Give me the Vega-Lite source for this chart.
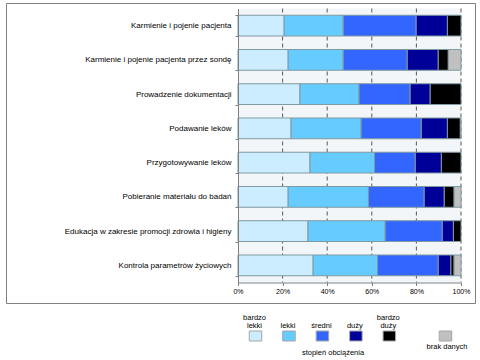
{
  "$schema": "https://vega.github.io/schema/vega-lite/v6.json",
  "background": "white",
  "padding": {"left": 5, "top": -2, "right": 0, "bottom": 0},
  "config": {"font": "Liberation Sans", "concat": {"spacing": 8}},
  "datasets": {
    "obciazenie": [
      {"czynnosc": "Karmienie i pojenie pacjenta", "stopien": "bardzo lekki", "procent": 20.7},
      {"czynnosc": "Karmienie i pojenie pacjenta", "stopien": "lekki", "procent": 26.5},
      {"czynnosc": "Karmienie i pojenie pacjenta", "stopien": "średni", "procent": 32.7},
      {"czynnosc": "Karmienie i pojenie pacjenta", "stopien": "duży", "procent": 14.0},
      {"czynnosc": "Karmienie i pojenie pacjenta", "stopien": "bardzo duży", "procent": 6.1},
      {"czynnosc": "Karmienie i pojenie pacjenta przez sondę", "stopien": "bardzo lekki", "procent": 22.5},
      {"czynnosc": "Karmienie i pojenie pacjenta przez sondę", "stopien": "lekki", "procent": 24.7},
      {"czynnosc": "Karmienie i pojenie pacjenta przez sondę", "stopien": "średni", "procent": 28.7},
      {"czynnosc": "Karmienie i pojenie pacjenta przez sondę", "stopien": "duży", "procent": 13.9},
      {"czynnosc": "Karmienie i pojenie pacjenta przez sondę", "stopien": "bardzo duży", "procent": 4.5},
      {"czynnosc": "Karmienie i pojenie pacjenta przez sondę", "stopien": "brak danych", "procent": 5.7},
      {"czynnosc": "Prowadzenie dokumentacji", "stopien": "bardzo lekki", "procent": 27.8},
      {"czynnosc": "Prowadzenie dokumentacji", "stopien": "lekki", "procent": 26.5},
      {"czynnosc": "Prowadzenie dokumentacji", "stopien": "średni", "procent": 22.9},
      {"czynnosc": "Prowadzenie dokumentacji", "stopien": "duży", "procent": 9.0},
      {"czynnosc": "Prowadzenie dokumentacji", "stopien": "bardzo duży", "procent": 13.8},
      {"czynnosc": "Podawanie leków", "stopien": "bardzo lekki", "procent": 23.8},
      {"czynnosc": "Podawanie leków", "stopien": "lekki", "procent": 31.4},
      {"czynnosc": "Podawanie leków", "stopien": "średni", "procent": 27.0},
      {"czynnosc": "Podawanie leków", "stopien": "duży", "procent": 11.7},
      {"czynnosc": "Podawanie leków", "stopien": "bardzo duży", "procent": 5.8},
      {"czynnosc": "Podawanie leków", "stopien": "brak danych", "procent": 0.3},
      {"czynnosc": "Przygotowywanie leków", "stopien": "bardzo lekki", "procent": 32.3},
      {"czynnosc": "Przygotowywanie leków", "stopien": "lekki", "procent": 28.9},
      {"czynnosc": "Przygotowywanie leków", "stopien": "średni", "procent": 18.3},
      {"czynnosc": "Przygotowywanie leków", "stopien": "duży", "procent": 11.7},
      {"czynnosc": "Przygotowywanie leków", "stopien": "bardzo duży", "procent": 8.8},
      {"czynnosc": "Pobieranie materiału do badań", "stopien": "bardzo lekki", "procent": 22.5},
      {"czynnosc": "Pobieranie materiału do badań", "stopien": "lekki", "procent": 36.0},
      {"czynnosc": "Pobieranie materiału do badań", "stopien": "średni", "procent": 25.0},
      {"czynnosc": "Pobieranie materiału do badań", "stopien": "duży", "procent": 9.0},
      {"czynnosc": "Pobieranie materiału do badań", "stopien": "bardzo duży", "procent": 4.4},
      {"czynnosc": "Pobieranie materiału do badań", "stopien": "brak danych", "procent": 3.1},
      {"czynnosc": "Edukacja w zakresie promocji zdrowia i higieny", "stopien": "bardzo lekki", "procent": 31.4},
      {"czynnosc": "Edukacja w zakresie promocji zdrowia i higieny", "stopien": "lekki", "procent": 34.6},
      {"czynnosc": "Edukacja w zakresie promocji zdrowia i higieny", "stopien": "średni", "procent": 25.6},
      {"czynnosc": "Edukacja w zakresie promocji zdrowia i higieny", "stopien": "duży", "procent": 5.0},
      {"czynnosc": "Edukacja w zakresie promocji zdrowia i higieny", "stopien": "bardzo duży", "procent": 3.4},
      {"czynnosc": "Kontrola parametrów życiowych", "stopien": "bardzo lekki", "procent": 33.7},
      {"czynnosc": "Kontrola parametrów życiowych", "stopien": "lekki", "procent": 28.9},
      {"czynnosc": "Kontrola parametrów życiowych", "stopien": "średni", "procent": 27.2},
      {"czynnosc": "Kontrola parametrów życiowych", "stopien": "duży", "procent": 5.7},
      {"czynnosc": "Kontrola parametrów życiowych", "stopien": "bardzo duży", "procent": 1.4},
      {"czynnosc": "Kontrola parametrów życiowych", "stopien": "brak danych", "procent": 3.1}
    ],
    "siatka": [{"g": 0.2}, {"g": 0.4}, {"g": 0.6}, {"g": 0.8}, {"g": 1}],
    "legenda": [
      {"stopien": "bardzo lekki"},
      {"stopien": "lekki"},
      {"stopien": "średni"},
      {"stopien": "duży"},
      {"stopien": "bardzo duży"},
      {"stopien": "brak danych"}
    ]
  },
  "vconcat": [
    {
      "width": 469,
      "height": 300,
      "view": {"stroke": "#808080", "strokeWidth": 1, "fill": "white"},
      "layer": [
        {
          "data": {"name": "siatka"},
          "transform": [{"filter": "datum.g == 1"}],
          "mark": {"type": "rect", "fill": "#F2F6F9"},
          "encoding": {
            "x": {"datum": 0, "type": "quantitative"},
            "x2": {"datum": 1},
            "y": {"datum": 0, "type": "quantitative", "scale": {"domain": [0, 1], "range": [5.5, 279.5], "nice": false, "zero": false}, "axis": null},
            "y2": {"datum": 1}
          }
        },
        {
          "data": {"name": "siatka"},
          "mark": {"type": "rule", "stroke": "#595959", "strokeDash": [4, 3], "strokeWidth": 1},
          "encoding": {
            "x": {"field": "g", "type": "quantitative"},
            "y": {"datum": 0, "type": "quantitative", "scale": {"domain": [0, 1], "range": [5.5, 279.5], "nice": false, "zero": false}, "axis": null},
            "y2": {"datum": 1}
          }
        },
        {
          "data": {"name": "obciazenie"},
          "transform": [{"calculate": "indexof(['bardzo lekki', 'lekki', 'średni', 'duży', 'bardzo duży', 'brak danych'], datum.stopien)", "as": "kolejnosc"}],
          "mark": {"type": "bar", "stroke": "#7F9AA0", "strokeWidth": 1},
          "encoding": {
            "x": {
              "field": "procent", "type": "quantitative", "stack": "normalize",
              "scale": {"domain": [0, 1], "range": [232, 455], "nice": false, "zero": false},
              "axis": {"values": [0, 0.2, 0.4, 0.6, 0.8, 1], "format": "%", "orient": "bottom", "offset": -20.5, "grid": false, "title": null, "tickSize": 3, "tickColor": "#808080", "domainColor": "#808080", "labelFontSize": 7, "labelColor": "#000000", "labelPadding": 2, "labelFlush": false, "zindex": 1}
            },
            "y": {
              "field": "czynnosc", "type": "nominal",
              "sort": ["Karmienie i pojenie pacjenta", "Karmienie i pojenie pacjenta przez sondę", "Prowadzenie dokumentacji", "Podawanie leków", "Przygotowywanie leków", "Pobieranie materiału do badań", "Edukacja w zakresie promocji zdrowia i higieny", "Kontrola parametrów życiowych"],
              "scale": {"range": [5.5, 279.5], "paddingInner": 0.394, "paddingOuter": 0.197},
              "axis": {"orient": "left", "offset": -232, "title": null, "tickBand": "extent", "tickSize": 3, "tickColor": "#808080", "domainColor": "#808080", "labelFontSize": 8, "labelColor": "#000000", "labelPadding": 4, "labelLimit": 0, "zindex": 1}
            },
            "order": {"field": "kolejnosc", "type": "quantitative", "sort": "ascending"},
            "color": {
              "field": "stopien", "type": "nominal",
              "scale": {"domain": ["bardzo lekki", "lekki", "średni", "duży", "bardzo duży", "brak danych"], "range": ["#CCECFF", "#66CCFF", "#3366FF", "#000099", "#000000", "#C0C0C0"]},
              "legend": null
            }
          }
        }
      ],
      "resolve": {"scale": {"y": "independent"}, "axis": {"y": "independent"}}
    },
    {
      "width": 469,
      "height": 48,
      "view": {"stroke": null},
      "title": {"text": "stopień obciążenia", "orient": "bottom", "anchor": "middle", "dx": 92.5, "offset": -5, "baseline": "alphabetic", "fontSize": 7.5, "fontWeight": "normal", "font": "Liberation Sans", "color": "#000000"},
      "data": {"name": "legenda"},
      "layer": [
        {
          "transform": [{"filter": "datum.stopien != 'brak danych'"}],
          "mark": {"type": "point", "shape": "M-1.25,-1H1.25V1H-1.25Z", "size": 100, "filled": true, "opacity": 1, "stroke": "#A6A6A6", "strokeWidth": 1},
          "encoding": {
            "x": {"field": "stopien", "type": "nominal", "sort": ["bardzo lekki", "lekki", "średni", "duży", "bardzo duży"], "scale": {"domain": ["bardzo lekki", "lekki", "średni", "duży", "bardzo duży"], "range": [232.8, 400.05], "paddingInner": 0, "paddingOuter": 0}, "axis": null},
            "color": {"field": "stopien", "type": "nominal", "scale": {"domain": ["bardzo lekki", "lekki", "średni", "duży", "bardzo duży", "brak danych"], "range": ["#CCECFF", "#66CCFF", "#3366FF", "#000099", "#000000", "#C0C0C0"]}, "legend": null}
          }
        },
        {
          "transform": [{"filter": "datum.stopien == 'lekki' || datum.stopien == 'średni' || datum.stopien == 'duży'"}],
          "mark": {"type": "text", "fontSize": 7.5, "baseline": "bottom", "align": "center", "dx": -1, "dy": -6.5, "color": "#000000"},
          "encoding": {
            "x": {"field": "stopien", "type": "nominal", "sort": ["bardzo lekki", "lekki", "średni", "duży", "bardzo duży"], "scale": {"domain": ["bardzo lekki", "lekki", "średni", "duży", "bardzo duży"], "range": [232.8, 400.05], "paddingInner": 0, "paddingOuter": 0}, "axis": null},
            "text": {"field": "stopien"}
          }
        },
        {
          "transform": [{"filter": "datum.stopien == 'bardzo lekki' || datum.stopien == 'bardzo duży'"}],
          "mark": {"type": "text", "lineBreak": " ", "fontSize": 7.5, "lineHeight": 7.5, "baseline": "bottom", "align": "center", "dx": -1, "dy": -14, "color": "#000000"},
          "encoding": {
            "x": {"field": "stopien", "type": "nominal", "sort": ["bardzo lekki", "lekki", "średni", "duży", "bardzo duży"], "scale": {"domain": ["bardzo lekki", "lekki", "średni", "duży", "bardzo duży"], "range": [232.8, 400.05], "paddingInner": 0, "paddingOuter": 0}, "axis": null},
            "text": {"field": "stopien"}
          }
        },
        {
          "transform": [{"filter": "datum.stopien == 'brak danych'"}],
          "mark": {"type": "point", "shape": "M-1.25,-1H1.25V1H-1.25Z", "size": 100, "filled": true, "opacity": 1, "stroke": "#A6A6A6", "strokeWidth": 1},
          "encoding": {
            "x": {"field": "stopien", "type": "nominal", "scale": {"domain": ["brak danych"], "range": [429.5, 449.5], "paddingInner": 0, "paddingOuter": 0}, "axis": null},
            "color": {"field": "stopien", "type": "nominal", "scale": {"domain": ["bardzo lekki", "lekki", "średni", "duży", "bardzo duży", "brak danych"], "range": ["#CCECFF", "#66CCFF", "#3366FF", "#000099", "#000000", "#C0C0C0"]}, "legend": null}
          }
        },
        {
          "transform": [{"filter": "datum.stopien == 'brak danych'"}],
          "mark": {"type": "text", "fontSize": 7.5, "baseline": "alphabetic", "align": "center", "dx": 1.5, "dy": 12.5, "color": "#000000"},
          "encoding": {
            "x": {"field": "stopien", "type": "nominal", "scale": {"domain": ["brak danych"], "range": [429.5, 449.5], "paddingInner": 0, "paddingOuter": 0}, "axis": null},
            "text": {"field": "stopien"}
          }
        }
      ],
      "resolve": {"scale": {"x": "independent"}}
    }
  ]
}
